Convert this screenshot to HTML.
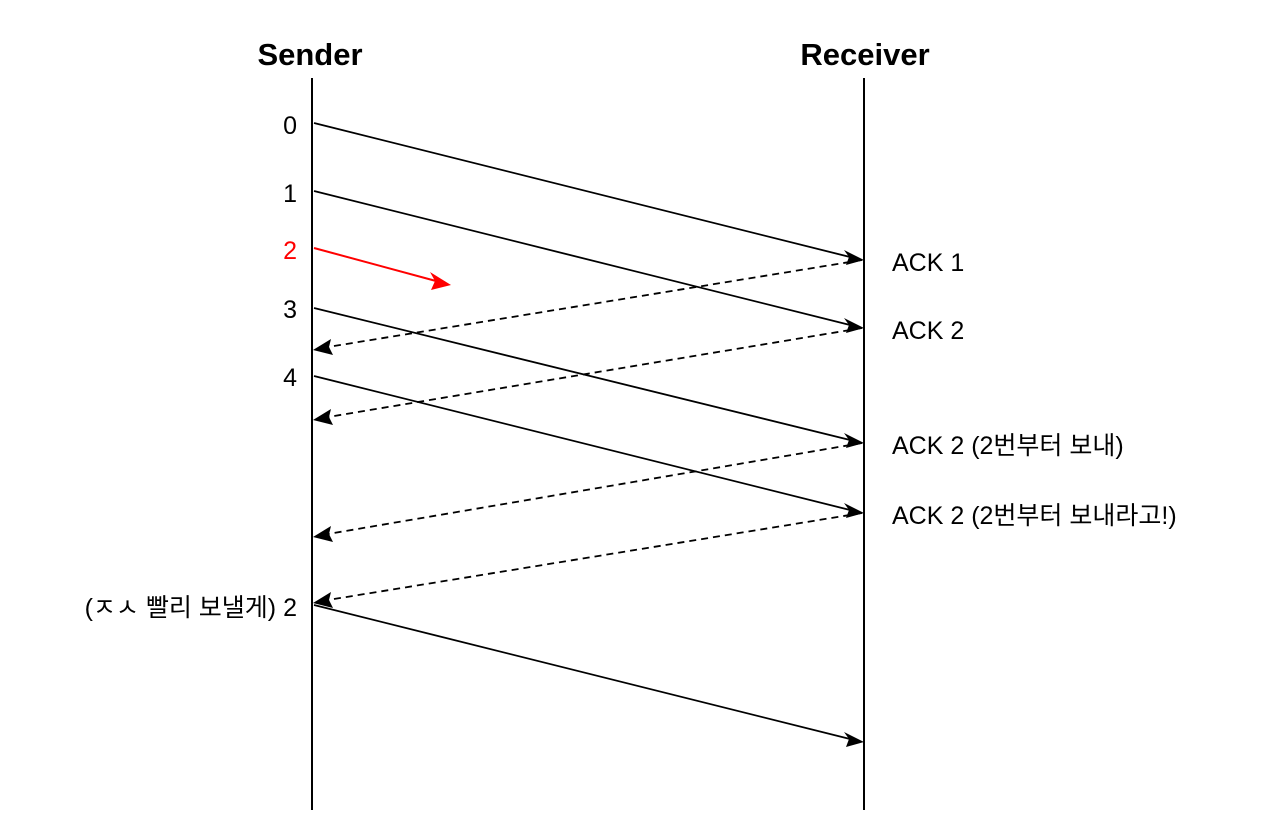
<!DOCTYPE html>
<html><head><meta charset="utf-8"><style>
body{margin:0;background:#fff;width:1280px;height:826px;overflow:hidden}
svg text{font-family:"Liberation Sans","Noto Sans CJK KR",sans-serif}
</style></head><body>
<svg width="1280" height="826" viewBox="0 0 1280 826" xmlns="http://www.w3.org/2000/svg">
<g stroke="#000" stroke-width="2">
<line x1="312" y1="78" x2="312" y2="810"/>
<line x1="864" y1="78" x2="864" y2="810"/>
</g>
<text x="310" y="65" font-size="31" font-weight="bold" text-anchor="middle">Sender</text>
<text x="865" y="65" font-size="31" font-weight="bold" text-anchor="middle">Receiver</text>
<g font-size="25" text-anchor="end">
<text x="297" y="134">0</text>
<text x="297" y="202">1</text>
<text x="297" y="259" fill="#f00">2</text>
<text x="297" y="318">3</text>
<text x="297" y="386">4</text>
<text x="297" y="616">(ㅈㅅ 빨리 보낼게) 2</text>
</g>
<g font-size="25">
<text x="892" y="271">ACK 1</text>
<text x="892" y="339">ACK 2</text>
<text x="892" y="454">ACK 2 (2번부터 보내)</text>
<text x="892" y="524">ACK 2 (2번부터 보내라고!)</text>
</g>
<g stroke="#000" stroke-width="1.8" fill="none">
<line x1="314" y1="123" x2="850" y2="257"/>
<line x1="314" y1="191" x2="850" y2="325"/>
<line x1="314" y1="308" x2="850" y2="440"/>
<line x1="314" y1="376" x2="850" y2="510"/>
<line x1="314" y1="605" x2="850" y2="739"/>
<g stroke-dasharray="7 5">
<line x1="862" y1="260" x2="328" y2="347"/>
<line x1="862" y1="328" x2="328" y2="417"/>
<line x1="862" y1="443" x2="328" y2="534"/>
<line x1="862" y1="513" x2="328" y2="600"/>
</g>
</g>
<line x1="314" y1="248" x2="436" y2="281" stroke="#f00" stroke-width="2"/>
<g fill="#000">
<polygon points="864,260 846,265 849,257 844,250"/>
<polygon points="864,328 846,333 849,325 844,318"/>
<polygon points="864,443 846,448 849,440 844,433"/>
<polygon points="864,513 846,518 849,510 844,503"/>
<polygon points="864,742 846,747 849,739 844,732"/>
<polygon points="313,350 331,339 329,347 333,355"/>
<polygon points="313,420 331,409 329,417 333,425"/>
<polygon points="313,537 331,526 329,534 333,542"/>
<polygon points="313,603 331,592 329,600 333,608"/>
</g>
<polygon points="451,285 431,290 435,281 430,272" fill="#f00"/>
</svg>
</body></html>
